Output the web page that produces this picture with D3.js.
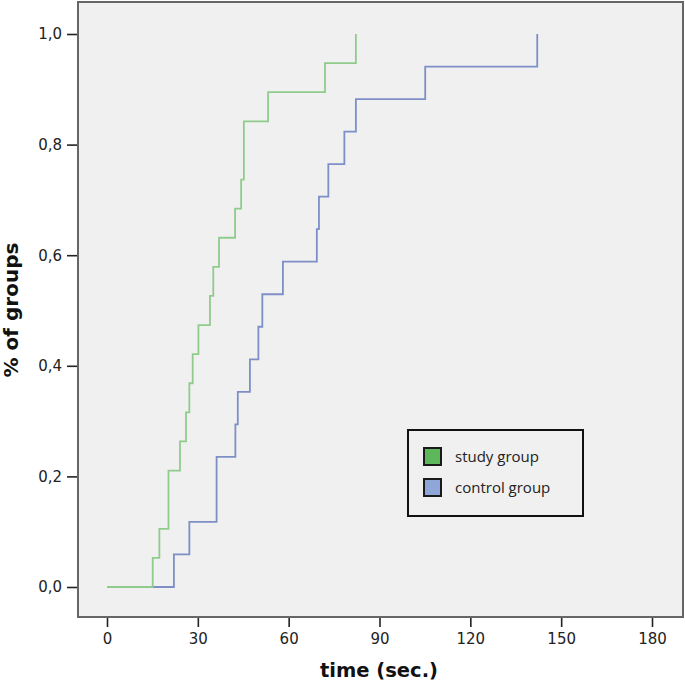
<!DOCTYPE html>
<html>
<head>
<meta charset="utf-8">
<script src="https://cdn.jsdelivr.net/npm/d3@7"></script>
<style>
  html, body { margin: 0; padding: 0; background: #ffffff; }
  svg { display: block; }
</style>
</head>
<body>
<svg id="chart" width="685" height="684"></svg>
<script>
// Event times (seconds)
const studyTimes = [15.1, 17.3, 20.3, 20.3, 24.1, 26.1, 27.2, 28.3, 30.2, 34.0, 35.1, 37.0, 42.3, 44.3, 45.2, 45.2, 53.2, 72.0, 82.2];
const controlTimes = [22.1, 27.2, 36.2, 36.2, 42.4, 43.2, 47.2, 50.0, 51.3, 58.1, 69.3, 70.0, 73.1, 78.4, 82.2, 105.1, 142.1];
const seriesNames = ["study group", "control group"];
const seriesColors = ["#8fcc8c", "#7d8fc6"];
const swatchColors = ["#5cb85a", "#8fa6d8"];
const xTicks = [0, 30, 60, 90, 120, 150, 180];
const yTicks = [0, 0.2, 0.4, 0.6, 0.8, 1.0];

function cumulative(times) {
  const n = times.length;
  const pts = [[0, 0]];
  const sorted = times.slice().sort((a, b) => a - b);
  let count = 0;
  let i = 0;
  while (i < sorted.length) {
    const t = sorted[i];
    while (i < sorted.length && sorted[i] === t) { count++; i++; }
    pts.push([t, count / n]);
  }
  return pts;
}

const svg = d3.select("#chart");
const frame = { left: 78, top: 2, right: 683, bottom: 617 };

const x = d3.scaleLinear().domain([0, 180]).range([107, 652]);
const y = d3.scaleLinear().domain([0, 1]).range([587, 34]);

// plot background
svg.append("rect")
  .attr("x", frame.left).attr("y", frame.top)
  .attr("width", frame.right - frame.left).attr("height", frame.bottom - frame.top)
  .attr("fill", "#f0f0f0");

const fontTick = "'Liberation Sans Narrow', 'DejaVu Sans', sans-serif";
const fontTitle = "'DejaVu Sans', sans-serif";

// y axis
const yAxis = d3.axisLeft(y).tickValues(yTicks).tickSize(11).tickPadding(5)
  .tickFormat(d => d3.format(".1f")(d).replace(".", ","));
const gy = svg.append("g").attr("transform", `translate(${frame.left},0)`).call(yAxis);
gy.select(".domain").remove();
gy.selectAll(".tick line").attr("stroke", "#222").attr("stroke-width", 1.6);
gy.selectAll(".tick text").attr("fill", "#222").attr("font-family", fontTick).attr("font-size", 15);

// x axis
const xAxis = d3.axisBottom(x).tickValues(xTicks).tickSize(10).tickPadding(6);
const gx = svg.append("g").attr("transform", `translate(0,${frame.bottom})`).call(xAxis);
gx.select(".domain").remove();
gx.selectAll(".tick line").attr("stroke", "#222").attr("stroke-width", 1.6);
gx.selectAll(".tick text").attr("fill", "#222").attr("font-family", fontTick).attr("font-size", 15);

// lines
const line = d3.line().x(d => x(d[0])).y(d => y(d[1])).curve(d3.curveStepAfter);
const data = [cumulative(studyTimes), cumulative(controlTimes)];
[1, 0].forEach(i => {
  svg.append("path")
    .attr("d", line(data[i]))
    .attr("fill", "none")
    .attr("stroke", seriesColors[i])
    .attr("stroke-width", 1.8);
});

// frame
svg.append("rect")
  .attr("x", frame.left).attr("y", frame.top)
  .attr("width", frame.right - frame.left).attr("height", frame.bottom - frame.top)
  .attr("fill", "none").attr("stroke", "#666").attr("stroke-width", 2);

// axis titles
svg.append("text")
  .attr("x", 379).attr("y", 677)
  .attr("text-anchor", "middle")
  .attr("font-family", fontTitle).attr("font-weight", "bold").attr("font-size", 19.5)
  .attr("fill", "#111")
  .text("time (sec.)");

svg.append("text")
  .attr("transform", "translate(18,310) rotate(-90)")
  .attr("text-anchor", "middle")
  .attr("font-family", fontTitle).attr("font-weight", "bold").attr("font-size", 20)
  .attr("fill", "#111")
  .text("% of groups");

// legend
const lg = svg.append("g");
lg.append("rect").attr("x", 408).attr("y", 430).attr("width", 175).attr("height", 86)
  .attr("fill", "#f0f0f0").attr("stroke", "#111").attr("stroke-width", 2);
seriesNames.forEach((name, i) => {
  const yy = 448 + i * 31;
  lg.append("rect").attr("x", 424).attr("y", yy).attr("width", 17).attr("height", 17)
    .attr("fill", swatchColors[i]).attr("stroke", "#1a1a1a").attr("stroke-width", 2);
  lg.append("text").attr("x", 455).attr("y", yy + 14)
    .attr("font-family", "'Open Sans', 'DejaVu Sans', sans-serif").attr("font-size", 15)
    .attr("fill", "#222")
    .text(name);
});
</script>
</body>
</html>
